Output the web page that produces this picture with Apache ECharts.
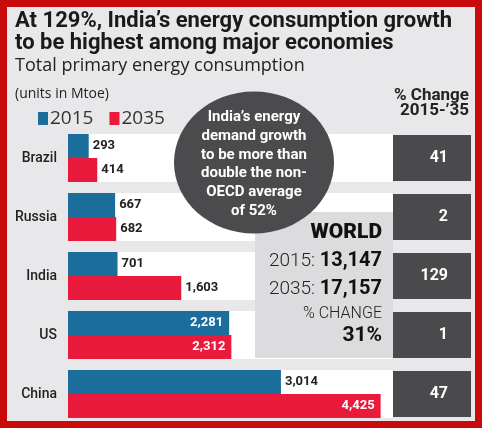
<!DOCTYPE html>
<html>
<head>
<meta charset="utf-8">
<script src="https://cdn.jsdelivr.net/npm/echarts@6/dist/echarts.min.js"></script>
<style>
html,body{margin:0;padding:0;background:#fff;}
#chart{width:486px;height:437px;}
</style>
</head>
<body>
<div id="chart"></div>
<script>
// ---- data ----
const categories = ['Brazil', 'Russia', 'India', 'US', 'China'];
const consumption2015 = [293, 667, 701, 2281, 3014];
const consumption2035 = [414, 682, 1603, 2312, 4425];
const pctChange = [41, 2, 129, 1, 47];
const world2015 = 13147;
const world2035 = 17157;
const worldPct = 31;
const seriesNames = ['2015', '2035'];

// ---- styling ----
const BLUE = '#1b6e9c';
const RED = '#ea1a3d';
const DARK = '#4a4a4c';
const BG = '#e8e8ea';
const FRAME = '#c90a0a';
const FONT = 'Roboto, "Open Sans", sans-serif';
const insideCats2015 = ['US'];
const insideCats2035 = ['US', 'China'];

const fmt = v => v.toLocaleString('en-US');

function barData(values, insideCats) {
  return values.map((v, i) => {
    const inside = insideCats.indexOf(categories[i]) >= 0;
    return {
      value: v,
      label: inside
        ? {position: 'insideRight', color: '#fff', distance: 6}
        : {position: 'right', color: '#222', distance: 4}
    };
  });
}

const chart = echarts.init(document.getElementById('chart'), null, {renderer: 'canvas'});

const option = {
  animation: false,
  backgroundColor: '#ffffff',
  textStyle: {fontFamily: FONT},
  legend: {
    left: 33, top: 104,
    icon: 'rect', itemWidth: 10, itemHeight: 13, itemGap: 16,
    data: seriesNames,
    textStyle: {fontSize: 19, color: '#333', fontFamily: '"Open Sans", sans-serif', padding: [0, 0, 0, -3]},
    selectedMode: false
  },
  grid: [
    {left: 68, right: 93, top: 128.5, bottom: 13.5, containLabel: false},
    {left: 393, right: 15, top: 128.5, bottom: 13.5, containLabel: false}
  ],
  xAxis: [
    {gridIndex: 0, type: 'value', min: 0, max: 4600, show: false},
    {gridIndex: 1, type: 'value', min: 0, max: 1, show: false}
  ],
  yAxis: [
    {gridIndex: 0, type: 'category', data: categories, inverse: true,
     axisLine: {show: false}, axisTick: {show: false},
     axisLabel: {margin: 11, fontSize: 14, color: '#222', fontWeight: 500, fontFamily: FONT}},
    {gridIndex: 1, type: 'category', data: categories, inverse: true, show: false}
  ],
  series: [
    {
      name: seriesNames[0], type: 'bar', xAxisIndex: 0, yAxisIndex: 0,
      data: barData(consumption2015, insideCats2015),
      barWidth: 24, barGap: '0%',
      itemStyle: {color: BLUE},
      showBackground: true, backgroundStyle: {color: '#ffffff'},
      label: {show: true, fontSize: 13, fontWeight: 'bold', fontFamily: FONT, formatter: p => fmt(p.value)},
      z: 3
    },
    {
      name: seriesNames[1], type: 'bar', xAxisIndex: 0, yAxisIndex: 0,
      data: barData(consumption2035, insideCats2035),
      barWidth: 24, barGap: '0%',
      itemStyle: {color: RED},
      showBackground: true, backgroundStyle: {color: '#ffffff'},
      label: {show: true, fontSize: 13, fontWeight: 'bold', fontFamily: FONT, formatter: p => fmt(p.value)},
      z: 3
    },
    {
      name: 'pct', type: 'bar', xAxisIndex: 1, yAxisIndex: 1,
      data: pctChange.map(v => ({value: 1, pct: v})),
      barWidth: 46,
      itemStyle: {color: DARK},
      label: {show: true, position: 'insideRight', distance: 23, color: '#fff',
              fontSize: 16, fontWeight: 'bold', fontFamily: FONT,
              formatter: p => String(pctChange[p.dataIndex])},
      z: 3
    }
  ],
  graphic: [
    // frame
    {type: 'rect', z: -10, silent: true,
     shape: {x: 3.5, y: 3.5, width: 475, height: 421},
     style: {fill: BG, stroke: FRAME, lineWidth: 7}},
    // titles
    {type: 'text', left: 15, top: 10, z: 5,
     style: {text: 'At 129%, India\u2019s energy consumption growth', fontSize: 22, fontWeight: 'bold', fill: '#1a1a1a', fontFamily: FONT}},
    {type: 'text', left: 15, top: 32, z: 5,
     style: {text: 'to be highest among major economies', fontSize: 22, fontWeight: 'bold', fill: '#1a1a1a', fontFamily: FONT}},
    {type: 'text', left: 15, top: 57, z: 5,
     style: {text: 'Total primary energy consumption', fontSize: 18, fill: '#222', fontFamily: '"Open Sans", sans-serif'}},
    {type: 'text', left: 15, top: 87, z: 5,
     style: {text: '(units in Mtoe)', fontSize: 14, fill: '#222', fontFamily: '"Open Sans", sans-serif'}},
    // right header
    {type: 'text', z: 5, x: 469, y: 88,
     style: {text: '% Change\n2015-\u201935', textAlign: 'right', fontSize: 17, fontWeight: 'bold', fill: '#222', lineHeight: 15, fontFamily: FONT}},
    // world box
    {type: 'rect', z: 20, silent: true,
     shape: {x: 255, y: 212, width: 138, height: 146},
     style: {fill: '#dcdcde'}},
    {type: 'text', z: 21, x: 382, y: 222,
     style: {text: 'WORLD', textAlign: 'right', fontSize: 21, fontWeight: 900, fill: '#111', fontFamily: FONT}},
    {type: 'text', z: 21, x: 382, y: 251,
     style: {text: '{l|2015: }{b|' + fmt(world2015) + '}', textAlign: 'right',
             rich: {l: {fontSize: 19, fill: '#222', fontFamily: FONT, fontWeight: 300},
                    b: {fontSize: 20, fontWeight: 'bold', fill: '#111', fontFamily: FONT}}}},
    {type: 'text', z: 21, x: 382, y: 279,
     style: {text: '{l|2035: }{b|' + fmt(world2035) + '}', textAlign: 'right',
             rich: {l: {fontSize: 19, fill: '#222', fontFamily: FONT, fontWeight: 300},
                    b: {fontSize: 20, fontWeight: 'bold', fill: '#111', fontFamily: FONT}}}},
    {type: 'text', z: 21, x: 382, y: 306,
     style: {text: '% CHANGE', textAlign: 'right', fontSize: 16, fontWeight: 300, fill: '#222', fontFamily: FONT}},
    {type: 'text', z: 21, x: 382, y: 325,
     style: {text: worldPct + '%', textAlign: 'right', fontSize: 21, fontWeight: 'bold', fill: '#111', fontFamily: FONT}},
    // bubble
    {type: 'ellipse', z: 30, silent: true,
     shape: {cx: 254, cy: 162.5, rx: 80, ry: 71},
     style: {fill: '#4b4b4d'}},
    {type: 'text', z: 31, x: 254, y: 108,
     style: {text: 'India\u2019s energy\ndemand growth\nto be more than\ndouble the non-\nOECD average\nof 52%',
             textAlign: 'center', fontSize: 15, lineHeight: 18.7, fontWeight: 'bold', fill: '#fff', fontFamily: FONT}}
  ]
};
chart.setOption(option);
</script>
</body>
</html>
